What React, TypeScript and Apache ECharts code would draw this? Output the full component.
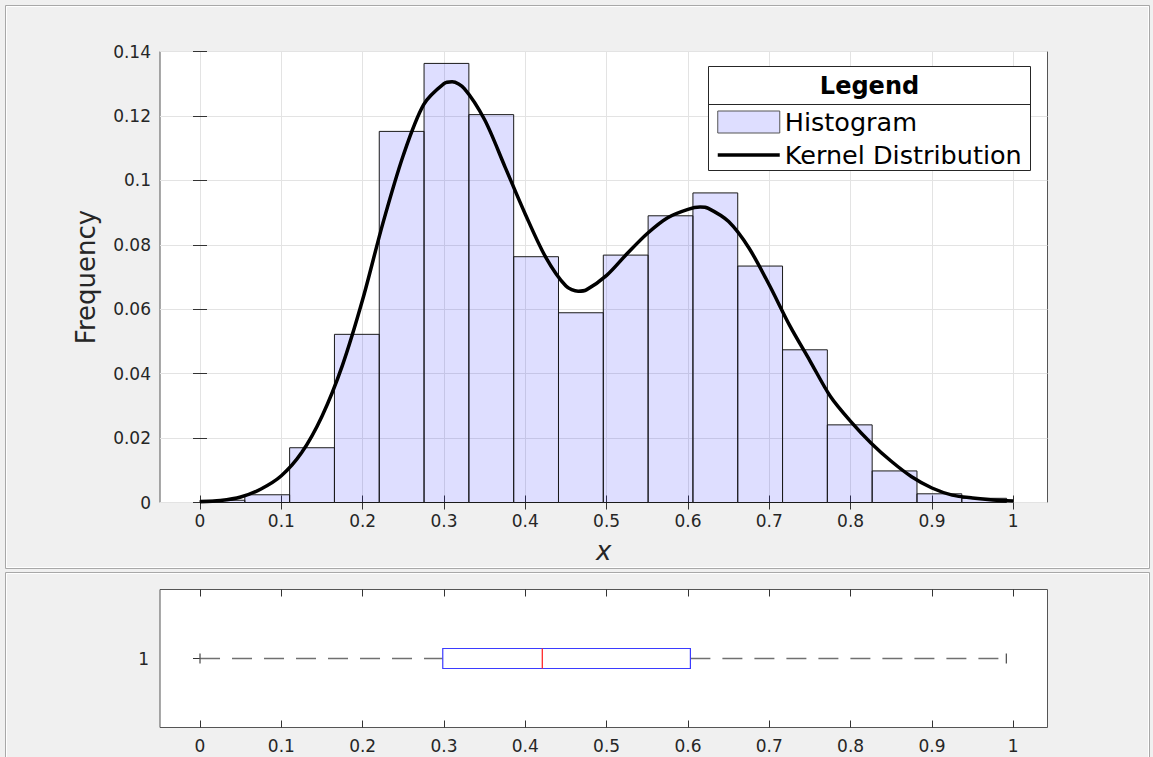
import React, { useEffect, useRef } from "react";
import * as echarts from "echarts";

// Histogram bins (normalised to probability)
const binEdges = [
  0, 0.0551, 0.1102, 0.1653, 0.2204, 0.2755, 0.3306, 0.3857, 0.4408, 0.4959,
  0.551, 0.6061, 0.6612, 0.7163, 0.7714, 0.8265, 0.8816, 0.9367, 0.9918,
];
const binHeights = [
  0.0007, 0.0024, 0.017, 0.0522, 0.1152, 0.1363, 0.1204, 0.0763, 0.0589,
  0.0768, 0.089, 0.0961, 0.0734, 0.0474, 0.0241, 0.0098, 0.0027, 0.0013,
];

// Kernel density estimate, sampled along x
const kdeX = [
  0, 0.025, 0.05, 0.075, 0.1, 0.125, 0.15, 0.175, 0.2, 0.225, 0.25, 0.275, 0.3,
  0.31, 0.325, 0.35, 0.375, 0.4, 0.425, 0.45, 0.465, 0.475, 0.5, 0.525, 0.55,
  0.575, 0.6, 0.615, 0.625, 0.65, 0.675, 0.7, 0.725, 0.75, 0.775, 0.8, 0.825,
  0.85, 0.875, 0.9, 0.925, 0.95, 0.975, 1.0,
];
const kdeY = [
  0.0002, 0.0006, 0.0017, 0.0042, 0.0083, 0.0155, 0.0268, 0.0425, 0.063,
  0.0868, 0.1078, 0.1235, 0.13, 0.1306, 0.1285, 0.1188, 0.1042, 0.0895, 0.0762,
  0.0672, 0.0656, 0.066, 0.0705, 0.0772, 0.0835, 0.0884, 0.091, 0.0917, 0.0913,
  0.0872, 0.079, 0.0675, 0.055, 0.044, 0.033, 0.0252, 0.0185, 0.0128, 0.008,
  0.0045, 0.0023, 0.0014, 0.0008, 0.0005,
];

// Box plot summary: min, q1, median, q3, max
const boxSummary = [0, 0.2985, 0.4209, 0.603, 0.9915];
const boxRow = 1;

const xTickValues = [0, 0.1, 0.2, 0.3, 0.4, 0.5, 0.6, 0.7, 0.8, 0.9, 1];
const xTickLabels = ["0", "0.1", "0.2", "0.3", "0.4", "0.5", "0.6", "0.7", "0.8", "0.9", "1"];
const yTickLabels = ["0", "0.02", "0.04", "0.06", "0.08", "0.1", "0.12", "0.14"];

const X_MIN = -0.0492;
const X_MAX = 1.0421;
const FONT = "DejaVu Sans";
const TICK_COLOR = "#262626";
const TICK_FONT = 17;

const histData = binHeights.map((h, i) => [binEdges[i], binEdges[i + 1], h]);
const kdeData = kdeX.map((x, i) => [x, kdeY[i]]);

function xAxisBase(gridIndex: number, position: "bottom" | "top", labels: boolean, split: boolean) {
  return {
    type: "value",
    gridIndex,
    position,
    min: X_MIN,
    max: X_MAX,
    axisLine: { show: false },
    axisTick: {
      show: true,
      inside: true,
      length: 7,
      customValues: xTickValues,
      lineStyle: { color: "#333", width: 1 },
    },
    axisLabel: {
      show: labels,
      customValues: xTickValues,
      margin: 10,
      fontSize: TICK_FONT,
      fontFamily: FONT,
      color: TICK_COLOR,
      formatter: (v: number) => xTickLabels[xTickValues.findIndex((t) => Math.abs(t - v) < 1e-6)] ?? "",
    },
    splitLine: { show: split, lineStyle: { color: "#e3e3e3", width: 1 } },
  };
}

export default function App() {
  const ref = useRef<HTMLDivElement>(null);

  useEffect(() => {
    if (!ref.current) return;
    const chart = echarts.init(ref.current, undefined, { renderer: "svg" });

    const histItem = (_p: any, api: any) => {
      const x0 = api.value(0);
      const x1 = api.value(1);
      const h = api.value(2);
      const a = api.coord([x0, h]);
      const b = api.coord([x1, 0]);
      return {
        type: "rect",
        shape: { x: a[0], y: a[1], width: b[0] - a[0], height: b[1] - a[1] },
        style: { fill: "rgba(0,0,255,0.13)", stroke: "#1a1a1a", lineWidth: 1 },
      };
    };

    const boxItem = (_p: any, api: any) => {
      const y = api.value(5);
      const pMin = api.coord([api.value(0), y]);
      const pQ1 = api.coord([api.value(1), y]);
      const pMed = api.coord([api.value(2), y]);
      const pQ3 = api.coord([api.value(3), y]);
      const pMax = api.coord([api.value(4), y]);
      const half = api.size([0, 0.0725])[1];
      const cap = api.size([0, 0.036])[1];
      const whisker = { stroke: "#707070", lineWidth: 1.3, lineDash: [20, 12] };
      const capStyle = { stroke: "#555", lineWidth: 1.3 };
      return {
        type: "group",
        children: [
          { type: "line", shape: { x1: pMin[0], y1: pMin[1], x2: pQ1[0], y2: pQ1[1] }, style: whisker },
          { type: "line", shape: { x1: pQ3[0], y1: pQ3[1], x2: pMax[0], y2: pMax[1] }, style: whisker },
          { type: "line", shape: { x1: pMin[0], y1: pMin[1] - cap, x2: pMin[0], y2: pMin[1] + cap }, style: capStyle },
          { type: "line", shape: { x1: pMax[0], y1: pMax[1] - cap, x2: pMax[0], y2: pMax[1] + cap }, style: capStyle },
          {
            type: "rect",
            shape: { x: pQ1[0], y: pQ1[1] - half, width: pQ3[0] - pQ1[0], height: 2 * half },
            style: { fill: "#fff", stroke: "#3b3bff", lineWidth: 1.2 },
          },
          {
            type: "line",
            shape: { x1: pMed[0], y1: pMed[1] - half, x2: pMed[0], y2: pMed[1] + half },
            style: { stroke: "#ff2a2a", lineWidth: 1.3 },
          },
        ],
      };
    };

    const option: any = {
      animation: false,
      backgroundColor: "#f0f0f0",
      textStyle: { fontFamily: FONT },
      grid: [
        {
          left: 160, top: 51.5, width: 887.5, height: 451,
          show: true, backgroundColor: "#ffffff", borderColor: "#555", borderWidth: 1,
          containLabel: false, outerBoundsMode: "none",
        },
        {
          left: 160, top: 589.5, width: 887.5, height: 138,
          show: true, backgroundColor: "#ffffff", borderColor: "#555", borderWidth: 1,
          containLabel: false, outerBoundsMode: "none",
        },
      ],
      xAxis: [
        {
          ...xAxisBase(0, "bottom", true, true),
          name: "x",
          nameLocation: "middle",
          nameGap: 35,
          nameTextStyle: { fontSize: 26, fontStyle: "italic", color: TICK_COLOR, fontFamily: FONT },
        },
        xAxisBase(0, "top", false, false),
        xAxisBase(1, "bottom", true, false),
        xAxisBase(1, "top", false, false),
      ],
      yAxis: [
        {
          type: "value", gridIndex: 0, position: "left", min: 0, max: 0.14, interval: 0.02,
          axisLine: { show: false },
          axisTick: { show: true, inside: true, length: 7, lineStyle: { color: "#333" } },
          axisLabel: {
            margin: 9, fontSize: TICK_FONT, fontFamily: FONT, color: TICK_COLOR,
            formatter: (v: number) => yTickLabels[Math.round(v / 0.02)] ?? "",
          },
          splitLine: { show: true, lineStyle: { color: "#e3e3e3", width: 1 } },
          name: "Frequency",
          nameLocation: "middle",
          nameGap: 61,
          nameTextStyle: { fontSize: 26, color: TICK_COLOR, fontFamily: FONT },
        },
        {
          type: "value", gridIndex: 0, position: "right", min: 0, max: 0.14, interval: 0.02,
          axisLine: { show: false },
          axisTick: { show: true, inside: true, length: 7, lineStyle: { color: "#333" } },
          axisLabel: { show: false },
          splitLine: { show: false },
        },
        {
          type: "value", gridIndex: 1, position: "left", min: 0.5, max: 1.5,
          axisLine: { show: false },
          axisTick: { show: true, inside: true, length: 7, customValues: [boxRow], lineStyle: { color: "#333" } },
          axisLabel: {
            customValues: [boxRow], margin: 11, fontSize: TICK_FONT, fontFamily: FONT, color: TICK_COLOR,
            formatter: (v: number) => String(v),
          },
          splitLine: { show: false },
        },
        {
          type: "value", gridIndex: 1, position: "right", min: 0.5, max: 1.5,
          axisLine: { show: false },
          axisTick: { show: true, inside: true, length: 7, customValues: [boxRow], lineStyle: { color: "#333" } },
          axisLabel: { show: false },
          splitLine: { show: false },
        },
      ],
      legend: {
        orient: "vertical",
        left: 716,
        top: 109,
        itemWidth: 62,
        itemHeight: 22,
        itemGap: 7,
        padding: 0,
        selectedMode: false,
        z: 20,
        textStyle: { fontSize: 25.5, color: "#000", fontFamily: FONT, lineHeight: 22 },
        data: [
          {
            name: "Histogram",
            icon: "rect",
            itemStyle: { color: "rgba(0,0,255,0.13)", borderColor: "#555", borderWidth: 1 },
          },
          {
            name: "Kernel Distribution",
            itemStyle: { opacity: 0 },
            lineStyle: { color: "#000", width: 3.5 },
          },
        ],
      },
      graphic: [
        // figure panels (etched borders)
        { type: "rect", z: 0, silent: true, shape: { x: 5.5, y: 5.5, width: 1144, height: 563 }, style: { fill: "none", stroke: "#a8a8a8", lineWidth: 1 } },
        { type: "rect", z: 0, silent: true, shape: { x: 6.5, y: 6.5, width: 1142, height: 561 }, style: { fill: "none", stroke: "#ffffff", lineWidth: 1 } },
        { type: "rect", z: 0, silent: true, shape: { x: 5.5, y: 572.5, width: 1144, height: 200 }, style: { fill: "none", stroke: "#a8a8a8", lineWidth: 1 } },
        { type: "rect", z: 0, silent: true, shape: { x: 6.5, y: 573.5, width: 1142, height: 200 }, style: { fill: "none", stroke: "#ffffff", lineWidth: 1 } },
        // legend box with title
        { type: "rect", z: 15, silent: true, shape: { x: 708.5, y: 66.5, width: 322, height: 104 }, style: { fill: "#ffffff", stroke: "#262626", lineWidth: 1 } },
        { type: "line", z: 16, silent: true, shape: { x1: 708.5, y1: 104.5, x2: 1030.5, y2: 104.5 }, style: { stroke: "#262626", lineWidth: 1 } },
        {
          type: "text", z: 16, silent: true, x: 869.5, y: 86,
          style: { text: "Legend", fontSize: 24, fontWeight: "bold", fontFamily: FONT, fill: "#000", align: "center", verticalAlign: "middle" },
        },
      ],
      series: [
        {
          name: "Histogram",
          type: "custom",
          xAxisIndex: 0,
          yAxisIndex: 0,
          renderItem: histItem,
          encode: { x: [0, 1], y: 2 },
          itemStyle: { color: "rgba(0,0,255,0.13)", borderColor: "#555" },
          data: histData,
          z: 2,
        },
        {
          name: "Kernel Distribution",
          type: "line",
          xAxisIndex: 0,
          yAxisIndex: 0,
          data: kdeData,
          smooth: 0.3,
          symbol: "none",
          lineStyle: { color: "#000", width: 3.5 },
          itemStyle: { color: "#000" },
          z: 3,
        },
        {
          name: "Box",
          type: "custom",
          xAxisIndex: 2,
          yAxisIndex: 2,
          renderItem: boxItem,
          encode: { x: [0, 1, 2, 3, 4], y: 5 },
          data: [[...boxSummary, boxRow]],
          z: 2,
        },
      ],
    };

    chart.setOption(option);
    return () => chart.dispose();
  }, []);

  return (
    <div
      ref={ref}
      style={{ position: "absolute", left: 0, top: 0, width: 1153, height: 757 }}
    />
  );
}
